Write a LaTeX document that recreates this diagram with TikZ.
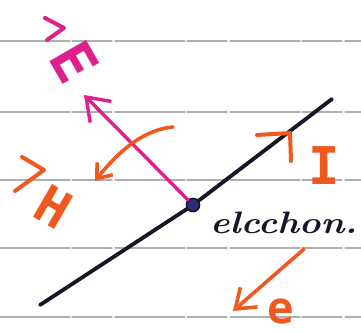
\documentclass[tikz,border=0pt]{standalone}
\usepackage{fontspec}
\newfontfamily\hand{DejaVu Sans Mono}
\usetikzlibrary{arrows.meta}
\definecolor{mag}{RGB}{222,32,140}
\definecolor{org}{RGB}{240,88,32}
\definecolor{ink}{RGB}{22,22,40}
\definecolor{dotc}{RGB}{45,45,120}
\definecolor{rulec}{RGB}{175,175,175}
\begin{document}
\begin{tikzpicture}[x=1pt,y=-1pt, line cap=round, line join=round,
  ruleline/.style={draw=rulec, line width=1.2pt, dash pattern=on 70pt off 2pt on 40pt off 3pt},
  wire/.style={draw=ink, line width=3.8pt},
  earrow/.style={draw=mag, line width=3.4pt, -{Straight Barb[length=21pt,width=30pt]}},
  oarrow/.style={draw=org, line width=3.6pt},
  ehook/.style={draw=mag, line width=4pt},
  ohook/.style={draw=org, line width=4pt},
  lbl/.style={font=\hand\bfseries\fontsize{52}{60}\selectfont, inner sep=0pt},
  dotnode/.style={circle, fill=dotc, draw=ink, line width=1.5pt, minimum size=13pt, inner sep=0pt},
]
\useasboundingbox (0,0) rectangle (361,334);
\fill[white] (0,0) rectangle (361,334);
\foreach \y in {41,112,180,248,317} \draw[ruleline] (0,\y) -- (361,\y);

% wire and electron
\coordinate (wA) at (40,305);
\coordinate (wB) at (332,99);
\node[dotnode] (el) at (193,205) {};
\draw[wire] (wA) -- (el);
\draw[wire] (el) -- (wB);
\node[dotnode] at (el) {};

% E field arrow
\coordinate (Etip) at (84,95);
\draw[earrow] (el) -- (Etip);
\node[lbl, text=mag, rotate=-60, font=\hand\bfseries\fontsize{58}{64}\selectfont] (Elbl) at (75,62) {E};
\draw[ehook] (45,18) -- (64,28) -- (47,40);

% H circulation
\coordinate (Hs) at (173,127);
\coordinate (Ht) at (95,181);
\draw[oarrow, -{Straight Barb[length=13pt,width=20pt]}] (Hs) .. controls (140,130) and (115,156) .. (Ht);
\node[lbl, text=org, rotate=-30] (Hlbl) at (54,207) {H};
\draw[ohook] (22,157) -- (44,170) -- (15,191);

% current
\node[lbl, text=org] (Ilbl) at (324,166) {I};
\draw[ohook] (257,135) -- (290,133) -- (291,161);

% electron label
\node[font=\bfseries\itshape\fontsize{31}{37}\selectfont, text=ink, inner sep=0pt, xscale=1.18, anchor=base west] (lab) at (210,233) {elcchon.};

% electron motion
\coordinate (es) at (304,249);
\coordinate (et) at (233,311);
\draw[oarrow, -{Straight Barb[length=18pt,width=26pt]}] (es) -- (et);
\node[lbl, text=org, font=\hand\bfseries\fontsize{44}{50}\selectfont] (elbl) at (281,311) {e};
\end{tikzpicture}
\end{document}
